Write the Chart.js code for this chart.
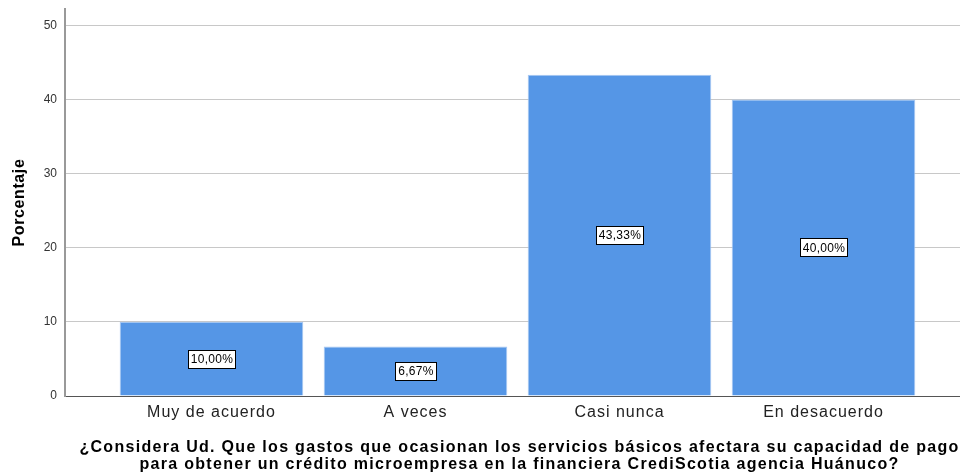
<!DOCTYPE html>
<html>
<head>
<meta charset="utf-8">
<script src="https://cdn.jsdelivr.net/npm/chart.js@4/dist/chart.umd.min.js"></script>
<style>
  html, body { margin: 0; padding: 0; background: #fff; }
  #wrap { width: 960px; height: 474px; }
</style>
</head>
<body>
<div id="wrap"><canvas id="myChart"></canvas></div>
<script>
const categories = ["Muy de acuerdo", "A veces", "Casi nunca", "En desacuerdo"]
const percentages = [10.00, 6.67, 43.33, 40.00]
const yTicks = [0, 10, 20, 30, 40, 50]
const xTitle = [
    "¿Considera Ud. Que los gastos que ocasionan los servicios básicos afectara su capacidad de pago",
    "para obtener un crédito microempresa en la financiera CrediScotia agencia Huánuco?"
]

const fontFamily = "'Liberation Sans', Arial, sans-serif"

// wrap a scale's draw step to add letter spacing / small shift (SPSS text is wider)
function spaced(scale, name, spacing, dx, dy){
    const orig = scale[name]
    scale[name] = function(){
        const ctx = this.ctx
        ctx.save()
        ctx.letterSpacing = spacing
        ctx.translate(dx, dy)
        orig.apply(this, arguments)
        ctx.restore()
    }
}

const textTweaks = {
    id: "textTweaks",
    beforeDraw(chart){
        if (chart._tweaked) return
        chart._tweaked = true
        spaced(chart.scales.x, "drawLabels", "1px", 0, 0)
        spaced(chart.scales.x, "drawTitle", "1.3px", 7, 2)
        spaced(chart.scales.y, "drawTitle", "0.6px", 0, 0)
    }
}

// white boxes with the percentage in the middle of every bar
const boxLabels = {
    id: "boxLabels",
    afterDatasetsDraw(chart){
        const ctx = chart.ctx
        const meta = chart.getDatasetMeta(0)
        ctx.save()
        ctx.font = "12px " + fontFamily
        ctx.letterSpacing = "0.3px"
        ctx.textAlign = "center"
        ctx.textBaseline = "middle"
        meta.data.forEach((bar, i) => {
            const txt = percentages[i].toFixed(2).replace(".", ",") + "%"
            const cy = (bar.y + bar.base) / 2
            const w = Math.round(ctx.measureText(txt).width + 5)
            const h = 18
            const x0 = Math.round(bar.x - w / 2) + 0.5
            const y0 = Math.round(cy - h / 2) + 0.5
            ctx.fillStyle = "#ffffff"
            ctx.fillRect(x0, y0, w, h)
            ctx.strokeStyle = "#000000"
            ctx.lineWidth = 1
            ctx.strokeRect(x0, y0, w, h)
            ctx.fillStyle = "#000000"
            ctx.fillText(txt, bar.x + 0.5, cy + 1)
        })
        ctx.restore()
    }
}

let htmlChart = document.getElementById("myChart")
let chart = new Chart(htmlChart, {
    type: "bar",
    data: {
        datasets: [
            {
                label: "Porcentaje",
                data: percentages.map((v, i) => ({x: i, y: v})),
                backgroundColor: "#5596e6",
                borderColor: "#a8c8f2",
                borderWidth: 1,
                categoryPercentage: 1,
                barPercentage: 0.9,
            }
        ]
    },
    options: {
        responsive: true,
        maintainAspectRatio: false,
        animation: false,
        layout: {
            padding: {top: 9, right: 0, left: 0, bottom: 0}
        },
        plugins: {
            legend: {display: false},
            tooltip: {enabled: false}
        },
        scales: {
            x: {
                type: "linear",
                offset: false,
                min: -0.718,
                max: 3.669,
                afterBuildTicks: (scale) => {
                    scale.ticks = categories.map((c, i) => ({value: i}))
                },
                afterFit: (scale) => {
                    scale.height = 78
                    scale.paddingLeft = 0
                    scale.paddingRight = 0
                },
                grid: {display: false, drawTicks: false},
                border: {display: true, color: "#555555", width: 1},
                ticks: {
                    callback: (v) => categories[v],
                    color: "#222222",
                    padding: 7,
                    maxRotation: 0,
                    autoSkip: false,
                    font: {family: fontFamily, size: 16}
                },
                title: {
                    display: true,
                    text: xTitle,
                    color: "#000000",
                    padding: {top: 0, bottom: 3},
                    font: {family: fontFamily, size: 16, weight: "bold", lineHeight: 1.05}
                }
            },
            y: {
                min: 0,
                max: 52.2,
                afterBuildTicks: (scale) => {
                    scale.ticks = yTicks.map(v => ({value: v}))
                },
                afterFit: (scale) => {
                    scale.width = 65
                    scale.paddingTop = 0
                    scale.paddingBottom = 0
                },
                grid: {color: "#c8c8c8", drawTicks: false},
                border: {display: true, color: "#999999", width: 2},
                ticks: {
                    color: "#333333",
                    padding: 8,
                    font: {family: fontFamily, size: 12}
                },
                title: {
                    display: true,
                    text: "Porcentaje",
                    color: "#000000",
                    padding: {top: 10, bottom: 0},
                    font: {family: fontFamily, size: 16, weight: "bold"}
                }
            }
        }
    },
    plugins: [textTweaks, boxLabels]
})
</script>
</body>
</html>
